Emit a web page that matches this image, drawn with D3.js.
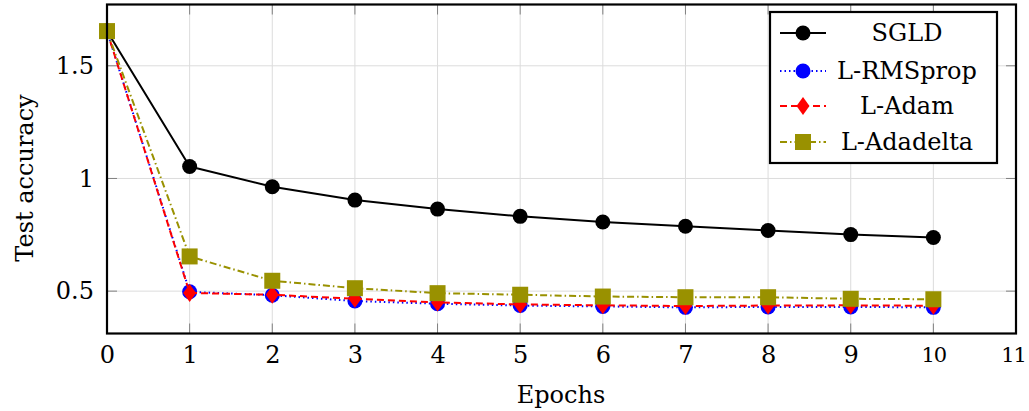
<!DOCTYPE html>
<html><head><meta charset="utf-8">
<script src="https://cdn.jsdelivr.net/npm/d3@7"></script>
<style>body{margin:0;background:#fff}svg{display:block}text{font-family:"DejaVu Serif",serif;fill:#000}</style>
</head><body><svg id="c" width="1029" height="411"></svg>
<script>
const epochs = [0,1,2,3,4,5,6,7,8,9,10];
const sgld      = [1.654,1.053,0.963,0.904,0.864,0.832,0.807,0.788,0.769,0.751,0.738];
const rmsprop   = [1.654,0.497,0.482,0.456,0.444,0.436,0.432,0.428,0.430,0.430,0.428];
const adam      = [1.654,0.492,0.484,0.466,0.450,0.441,0.437,0.434,0.436,0.437,0.435];
const adadelta  = [1.654,0.654,0.546,0.513,0.491,0.484,0.476,0.473,0.473,0.466,0.464];
const xTicks = [0,1,2,3,4,5,6,7,8,9,10,11];
const yTicks = [0.5,1,1.5];
const yTickLabels = ["0.5","1","1.5"];
const seriesNames = ["SGLD","L-RMSprop","L-Adam","L-Adadelta"];

const FONT = "DejaVu Serif";
const FS = 24;
const svg = d3.select("#c");
const L=107,R=1016,T=4.5,B=333.5;
const x = d3.scaleLinear().domain([0,11]).range([L,R]);
const y = d3.scaleLinear().domain([0.312,1.772]).range([B,T]);

// grid
const g = svg.append("g");
g.selectAll(".gx").data(xTicks).join("line").attr("x1",d=>x(d)).attr("x2",d=>x(d)).attr("y1",T).attr("y2",B).attr("stroke","#dcdcdc").attr("stroke-width",1);
g.selectAll(".gy").data(yTicks).join("line").attr("y1",d=>y(d)).attr("y2",d=>y(d)).attr("x1",L).attr("x2",R).attr("stroke","#dcdcdc").attr("stroke-width",1);
// ticks (inside, on all sides)
const tk="#808080", tl=10;
g.selectAll(".tb").data(xTicks).join("line").attr("x1",d=>x(d)).attr("x2",d=>x(d)).attr("y1",B).attr("y2",B-tl).attr("stroke",tk);
g.selectAll(".tt").data(xTicks).join("line").attr("x1",d=>x(d)).attr("x2",d=>x(d)).attr("y1",T).attr("y2",T+tl).attr("stroke",tk);
g.selectAll(".tl").data(yTicks).join("line").attr("y1",d=>y(d)).attr("y2",d=>y(d)).attr("x1",L).attr("x2",L+tl).attr("stroke",tk);
g.selectAll(".tr").data(yTicks).join("line").attr("y1",d=>y(d)).attr("y2",d=>y(d)).attr("x1",R).attr("x2",R-tl).attr("stroke",tk);

// tick labels via axes
const xAxis = svg.append("g").attr("transform",`translate(0,${B})`)
  .call(d3.axisBottom(x).tickValues(xTicks).tickFormat(d3.format("d")).tickSize(0).tickPadding(12));
const yAxis = svg.append("g").attr("transform",`translate(${L},0)`)
  .call(d3.axisLeft(y).tickValues(yTicks).tickFormat((d,i)=>yTickLabels[i]).tickSize(0).tickPadding(13));
[xAxis,yAxis].forEach(a=>{a.attr("font-family",FONT);a.select(".domain").remove();a.selectAll("text").attr("font-size",FS).attr("font-family",FONT).attr("fill","#000");});
xAxis.selectAll("text").attr("dy","0.71em");
xAxis.selectAll("text").filter(d=>d>=10).attr("font-size",21).attr("dy","0.77em").attr("letter-spacing",-1);
xAxis.selectAll("text").filter(d=>d===11).attr("dx",-3);

const line = d3.line().x((d,i)=>x(epochs[i])).y(d=>y(d));
const series = [
  {name:seriesNames[0],data:sgld,color:"#000",dash:null,marker:"circle"},
  {name:seriesNames[1],data:rmsprop,color:"#0000ff",dash:"1.5,3",marker:"circle"},
  {name:seriesNames[2],data:adam,color:"#ff0000",dash:"7,4",marker:"diamond"},
  {name:seriesNames[3],data:adadelta,color:"#999100",dash:"7,3,1.5,3",marker:"square"}
];
function marker(sel,type,color){
  if(type==="circle") sel.append("circle").attr("r",7.5).attr("fill",color);
  else if(type==="square") sel.append("rect").attr("x",-8).attr("y",-8).attr("width",16).attr("height",16).attr("fill",color);
  else sel.append("path").attr("d","M0,-9L6.5,0L0,9L-6.5,0Z").attr("fill",color);
}
const plot = svg.append("g");
series.forEach(s=>{
  plot.append("path").attr("d",line(s.data)).attr("fill","none").attr("stroke",s.color).attr("stroke-width",2)
    .attr("stroke-dasharray",s.dash).attr("stroke-linejoin","round");
  s.data.forEach((v,i)=>{
    const m = plot.append("g").attr("transform",`translate(${x(epochs[i])},${y(v)})`);
    marker(m,s.marker,s.color);
  });
});

// frame
svg.append("rect").attr("x",L).attr("y",T).attr("width",R-L).attr("height",B-T).attr("fill","none").attr("stroke","#000").attr("stroke-width",2.2);

// axis titles
svg.append("text").attr("x",561).attr("y",403).attr("text-anchor","middle").attr("font-size",FS).attr("font-family",FONT).text("Epochs");
svg.append("text").attr("transform","translate(33,178) rotate(-90)").attr("text-anchor","middle").attr("font-size",FS).attr("font-family",FONT).text("Test accuracy");

// legend
const lg = svg.append("g");
lg.append("rect").attr("x",770).attr("y",12).attr("width",227).attr("height",151).attr("fill","#fff").attr("stroke","#000").attr("stroke-width",2.2);
const ly = [33,71,106,142];
series.forEach((s,i)=>{
  lg.append("line").attr("x1",780).attr("x2",826).attr("y1",ly[i]).attr("y2",ly[i]).attr("stroke",s.color).attr("stroke-width",2).attr("stroke-dasharray",s.dash);
  marker(lg.append("g").attr("transform",`translate(803,${ly[i]})`),s.marker,s.color);
  lg.append("text").attr("x",907).attr("y",ly[i]).attr("dy","0.35em").attr("text-anchor","middle").attr("font-size",FS).attr("font-family",FONT).text(s.name);
});
</script></body></html>
